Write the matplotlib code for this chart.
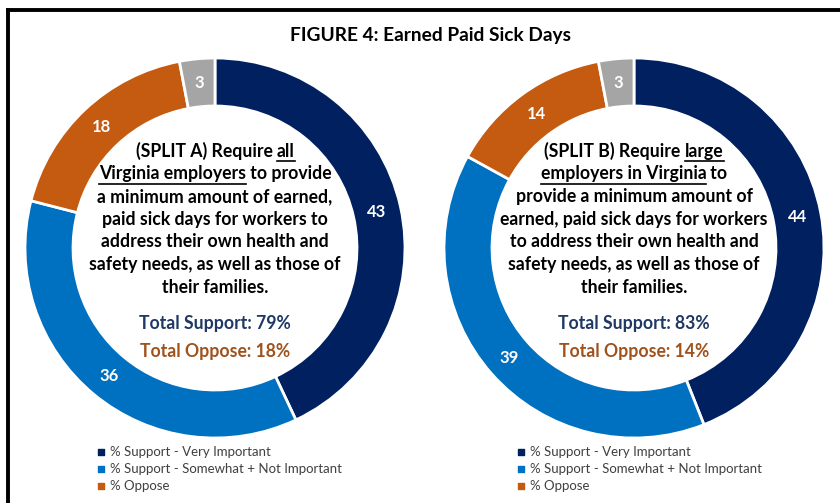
import matplotlib
matplotlib.use("Agg")
import matplotlib.pyplot as plt

# Survey results, percent of respondents
categories = ["% Support - Very Important",
              "% Support - Somewhat + Not Important",
              "% Oppose",
              "Don't know"]
split_a = [43, 36, 18, 3]
split_b = [44, 39, 14, 3]
total_support = [79, 83]
total_oppose = [18, 14]

colors = ["#002060", "#0070C0", "#C55A11", "#A5A5A5"]
SUPPORT_C = "#1F3864"
OPPOSE_C = "#A0521C"

# question text: each line is a list of (text, underlined)
question_a = [
    [("(SPLIT A) Require ", False), ("all", True)],
    [("Virginia employers", True), (" to provide", False)],
    [("a minimum amount of earned,", False)],
    [("paid sick days for workers to", False)],
    [("address their own health and", False)],
    [("safety needs, as well as those of", False)],
    [("their families.", False)],
]
question_b = [
    [("(SPLIT B) Require ", False), ("large", True)],
    [("employers in Virginia", True), (" to", False)],
    [("provide a minimum amount of", False)],
    [("earned, paid sick days for workers", False)],
    [("to address their own health and", False)],
    [("safety needs, as well as those of", False)],
    [("their families.", False)],
]

W, H = 840, 503
FONT = "Lato"

fig = plt.figure(figsize=(W / 100, H / 100), dpi=100)
ax = fig.add_axes([0, 0, 1, 1])
renderer = fig.canvas.get_renderer()


def Y(y):
    # pixel row (from top) -> data y
    return H - y


def mixed_line(xc, y, segs, size=12.7):
    texts = []
    for s, _ in segs:
        t = ax.text(0, Y(y), s, ha="left", va="center", fontsize=size,
                    fontweight="bold", family=FONT, color="black")
        texts.append(t)
    widths = [t.get_window_extent(renderer).width for t in texts]
    x = xc - sum(widths) / 2
    for t, w, (s, u) in zip(texts, widths, segs):
        t.set_x(x)
        if u:
            ax.plot([x, x + w], [Y(y + 10), Y(y + 10)], color="black", lw=1.2)
        x += w


def donut(xc, yc, vals, question, sup, opp):
    ax.pie(vals, colors=colors, center=(xc, Y(yc)), radius=190, startangle=90,
           counterclock=False, frame=True,
           wedgeprops=dict(width=48, edgecolor="white", linewidth=2),
           autopct=lambda p: f"{p * sum(vals) / 100:.0f}", pctdistance=0.874,
           textprops=dict(color="white", fontsize=12, fontweight="bold",
                          family=FONT))
    for i, segs in enumerate(question):
        mixed_line(xc, 151 + i * 22.7, segs)
    ax.text(xc, Y(324), f"Total Support: {sup}%", ha="center", va="center",
            fontsize=12.7, fontweight="bold", family=FONT, color=SUPPORT_C)
    ax.text(xc, Y(351), f"Total Oppose: {opp}%", ha="center", va="center",
            fontsize=12.7, fontweight="bold", family=FONT, color=OPPOSE_C)


donut(215, 248, split_a, question_a, total_support[0], total_oppose[0])
donut(634, 248, split_b, question_b, total_support[1], total_oppose[1])
ax.set_xlim(0, W)
ax.set_ylim(0, H)
ax.set_aspect("auto")
ax.axis("off")

# legends under each donut (first three series only)
for x0 in (101, 521):
    for i, name in enumerate(categories[:3]):
        yy = 452 + i * 17
        ax.scatter([x0], [Y(yy)], marker="s", s=16, color=colors[i])
        ax.text(x0 + 9, Y(yy), name, ha="left", va="center", fontsize=9.5,
                family=FONT, color="#404040")

ax.text(430, Y(35), "FIGURE 4: Earned Paid Sick Days", ha="center",
        va="center", fontsize=13.8, fontweight="bold", family=FONT)

# outer frame
ax.plot([8, 8], [0, Y(10)], color="black", lw=2.8, solid_capstyle="projecting")
ax.plot([8, W], [Y(10), Y(10)], color="black", lw=2.8, solid_capstyle="projecting")

fig.savefig("out.png", dpi=100)
